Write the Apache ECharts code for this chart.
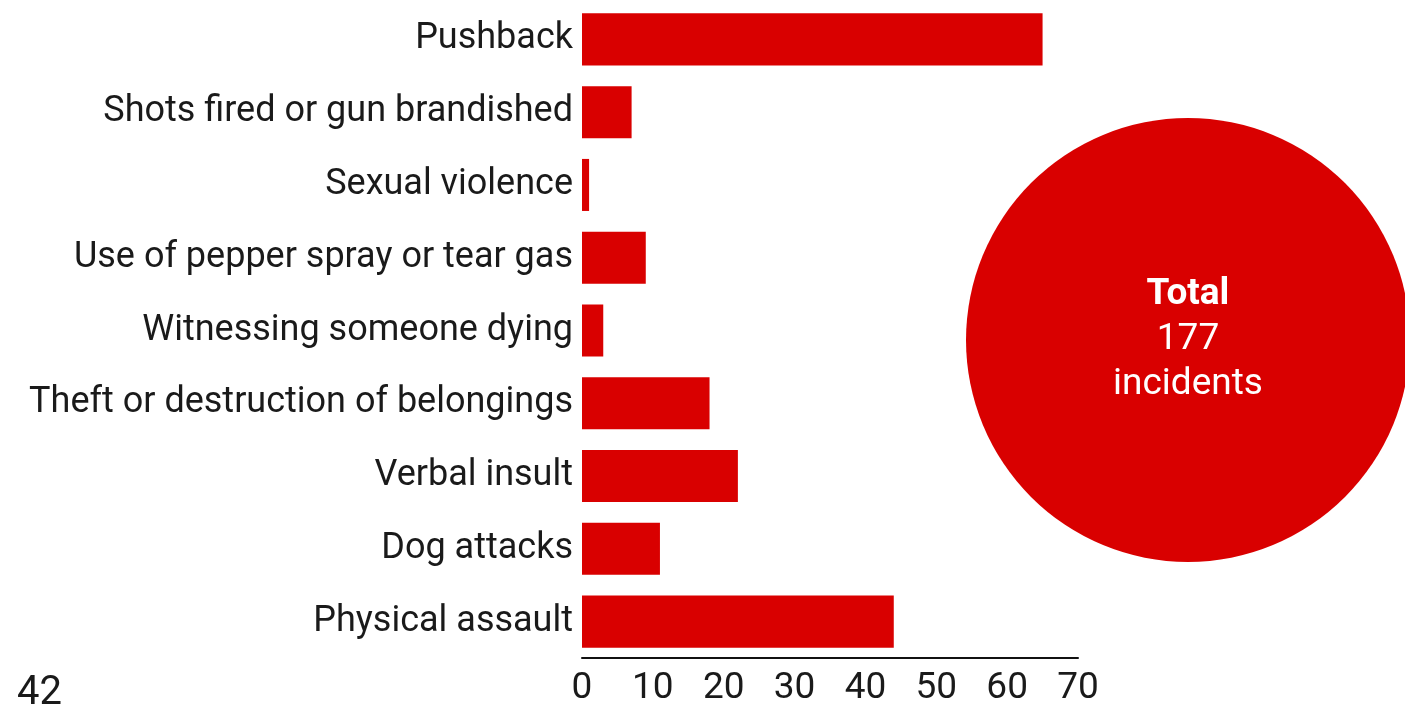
<!DOCTYPE html>
<html><head><meta charset="utf-8">
<script src="https://cdn.jsdelivr.net/npm/echarts@6/dist/echarts.min.js"></script>
<style>html,body{margin:0;padding:0;background:#fff}#c{width:1405px;height:704px}</style>
</head><body><div id="c"></div>
<script>
const categories = ["Pushback","Shots fired or gun brandished","Sexual violence","Use of pepper spray or tear gas","Witnessing someone dying","Theft or destruction of belongings","Verbal insult","Dog attacks","Physical assault"];
const values = [65, 7, 1, 9, 3, 18, 22, 11, 44];
const totalIncidents = 177;
const xTicks = [0, 10, 20, 30, 40, 50, 60, 70];
const pageNumber = "42";

const RED = '#d90000';
const FONT = 'Roboto';
const chart = echarts.init(document.getElementById('c'), null, {renderer: 'canvas'});
chart.setOption({
  animation: false,
  grid: {left: 582, right: 327, top: 3, height: 655, containLabel: false, outerBoundsMode: 'none'},
  xAxis: {
    type: 'value', min: xTicks[0], max: xTicks[xTicks.length-1], interval: 10,
    splitLine: {show: false},
    axisLine: {show: true, lineStyle: {color: '#111', width: 2}},
    axisTick: {show: false},
    axisLabel: {color: '#1a1a1a', fontSize: 37, fontFamily: FONT, margin: 12}
  },
  yAxis: {
    type: 'category', data: categories, inverse: true,
    axisLine: {show: false}, axisTick: {show: false},
    axisLabel: {color: '#1a1a1a', fontSize: 36, fontFamily: FONT, margin: 9}
  },
  series: [
    {type: 'bar', data: values, barCategoryGap: '28.5%', itemStyle: {color: RED}},
    {type: 'pie', center: [1188, 340], radius: [0, 222], silent: true,
     data: [{value: totalIncidents, name: 'Total'}],
     itemStyle: {color: RED},
     label: {show: true, position: 'center',
       formatter: '{b|Total}\n{n|' + totalIncidents + '}\n{n|incidents}',
       rich: {
         b: {color: '#fff', fontSize: 37, fontWeight: 'bold', fontFamily: FONT, lineHeight: 45},
         n: {color: '#fff', fontSize: 37, fontFamily: FONT, lineHeight: 45}
       }},
     labelLine: {show: false}}
  ],
  graphic: [{type: 'text', left: 17, top: 674, style: {text: pageNumber, fontSize: 40, fontFamily: FONT, fill: '#1a1a1a'}}]
});
</script></body></html>
